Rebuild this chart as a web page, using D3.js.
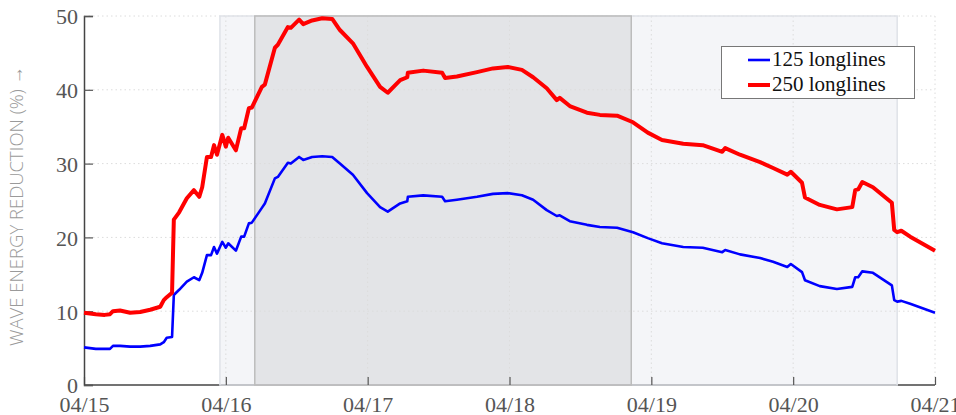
<!DOCTYPE html>
<html>
<head>
<meta charset="utf-8">
<script src="https://cdn.jsdelivr.net/npm/d3@7"></script>
<style>
  body { margin: 0; background: #fff; }
  svg { display: block; }
  .serif { font-family: "Liberation Serif", "Times New Roman", Times, serif; }
</style>
</head>
<body>
<script>
// hours since 04/15 00:00
const hours = [0, 2, 3.5, 4.4, 4.9, 6.1, 7.8, 9.5, 11.2, 12.9, 13.5, 14.0, 14.9, 15.2, 16.1, 17.4, 18.6, 19.5, 20.0, 20.8,
  21.5, 22.0, 22.5, 23.4, 24.0, 24.4, 25.7, 26.6, 27.1, 27.9, 28.4, 30.1, 30.6, 32.3, 32.8, 34.5, 35.0, 36.4, 37.1, 38.6,
  40.3, 42.0, 43.3, 45.5, 47.9, 50.1, 51.4, 53.5, 54.7, 54.8, 57.4, 60.6, 61.1, 63.1, 66.5, 69.2, 71.7, 74.1, 76.0, 78.3,
  80.0, 80.5, 82.2, 85.1, 87.3, 90.2, 92.9, 95.4, 97.8, 101.4, 104.7, 108.0, 108.5, 111.0, 114.4, 116.6, 119.0, 119.6, 121.5, 122.0,
  124.5, 127.4, 130.0, 130.5, 131.0, 131.7, 133.5, 136.7, 137.1, 137.6, 138.3, 139.8, 144.0];

const lines250 = [9.8, 9.6, 9.5, 9.6, 10.0, 10.1, 9.8, 9.9, 10.2, 10.6, 11.5, 11.9, 12.5, 22.4, 23.4, 25.3, 26.4, 25.5, 26.8, 30.9,
  30.9, 32.5, 31.2, 33.9, 32.3, 33.5, 31.8, 34.8, 34.8, 37.5, 37.6, 40.4, 40.7, 45.7, 46.1, 48.5, 48.4, 49.5, 48.9, 49.4,
  49.7, 49.6, 48.1, 46.3, 43.1, 40.4, 39.6, 41.3, 41.7, 42.3, 42.6, 42.3, 41.6, 41.8, 42.4, 42.9, 43.1, 42.7, 41.7, 40.2,
  38.6, 38.9, 37.8, 36.9, 36.6, 36.5, 35.6, 34.2, 33.2, 32.7, 32.5, 31.6, 32.1, 31.2, 30.2, 29.4, 28.5, 28.9, 27.4, 25.4,
  24.4, 23.8, 24.1, 26.4, 26.5, 27.5, 26.8, 24.7, 21.0, 20.7, 20.9, 20.1, 18.2];

const lines125 = [5.1, 4.9, 4.9, 4.9, 5.3, 5.3, 5.2, 5.2, 5.3, 5.5, 5.8, 6.4, 6.5, 12.2, 12.9, 14.0, 14.6, 14.2, 15.2, 17.6,
  17.6, 18.7, 17.8, 19.4, 18.6, 19.2, 18.2, 20.1, 20.1, 21.9, 22.0, 24.0, 24.6, 28.0, 28.2, 30.1, 30.0, 30.9, 30.5, 30.9,
  31.0, 30.9, 30.0, 28.5, 26.0, 24.1, 23.5, 24.6, 24.9, 25.5, 25.7, 25.5, 24.9, 25.1, 25.5, 25.9, 26.0, 25.7, 25.1, 23.7,
  22.9, 23.0, 22.2, 21.7, 21.4, 21.3, 20.7, 19.9, 19.2, 18.7, 18.6, 18.0, 18.3, 17.7, 17.2, 16.7, 16.0, 16.4, 15.3, 14.2,
  13.4, 13.0, 13.3, 14.6, 14.6, 15.4, 15.2, 13.5, 11.5, 11.3, 11.4, 11.0, 9.8];

// shaded periods, hours since 04/15 00:00
const lightBand = [23.0, 137.6];
const darkBand = [28.9, 92.6];

const yTicks = [0, 10, 20, 30, 40, 50];
const seriesNames = ['125 longlines', '250 longlines'];
const seriesColors = ['#0000ff', '#ff0000'];

const width = 956;
const height = 415;
const plotLeft = 84, plotRight = 935, plotTop = 16, plotBottom = 385;

const t0 = new Date(Date.UTC(2021, 3, 15));
const toDate = (h) => new Date(t0.getTime() + h * 3600 * 1000);

const x = d3.scaleUtc()
  .domain([t0, toDate(144)])
  .range([plotLeft, plotRight]);

const y = d3.scaleLinear()
  .domain([0, 50])
  .range([plotBottom, plotTop]);

const svg = d3.select('body')
  .append('svg')
  .attr('width', width)
  .attr('height', height);

// shading
svg.append('rect')
  .attr('x', x(toDate(lightBand[0])))
  .attr('y', plotTop)
  .attr('width', x(toDate(lightBand[1])) - x(toDate(lightBand[0])))
  .attr('height', plotBottom - plotTop)
  .attr('fill', '#f4f5f8');

svg.append('rect')
  .attr('x', x(toDate(darkBand[0])))
  .attr('y', plotTop)
  .attr('width', x(toDate(darkBand[1])) - x(toDate(darkBand[0])))
  .attr('height', plotBottom - plotTop)
  .attr('fill', '#e3e4e7');

const dayTicks = d3.utcDay.range(t0, toDate(145));

// grid
svg.append('g')
  .selectAll('line')
  .data(yTicks.slice(1))
  .enter()
  .append('line')
  .attr('x1', plotLeft)
  .attr('x2', plotRight)
  .attr('y1', (d) => y(d))
  .attr('y2', (d) => y(d))
  .attr('stroke', '#dcdcdc')
  .attr('stroke-dasharray', '1.5,3');

svg.append('g')
  .selectAll('line')
  .data(dayTicks.slice(1))
  .enter()
  .append('line')
  .attr('x1', (d) => x(d))
  .attr('x2', (d) => x(d))
  .attr('y1', plotTop)
  .attr('y2', plotBottom)
  .attr('stroke', '#dcdcdc')
  .attr('stroke-dasharray', '1.5,3');

// x axis baseline, then band outlines over it
svg.append('line')
  .attr('x1', plotLeft).attr('x2', plotRight)
  .attr('y1', plotBottom).attr('y2', plotBottom)
  .attr('stroke', '#444')
  .attr('stroke-width', 1.5);

svg.append('rect')
  .attr('x', x(toDate(lightBand[0])))
  .attr('y', plotTop)
  .attr('width', x(toDate(lightBand[1])) - x(toDate(lightBand[0])))
  .attr('height', plotBottom - plotTop)
  .attr('fill', 'none')
  .attr('stroke', '#dfe2e8')
  .attr('stroke-width', 1.5);

svg.append('rect')
  .attr('x', x(toDate(darkBand[0])))
  .attr('y', plotTop)
  .attr('width', x(toDate(darkBand[1])) - x(toDate(darkBand[0])))
  .attr('height', plotBottom - plotTop)
  .attr('fill', 'none')
  .attr('stroke', '#bcbcbc')
  .attr('stroke-width', 1.5);

// axes
const xAxis = svg.append('g')
  .attr('transform', `translate(0,${plotBottom})`)
  .attr('font-family', null)
  .call(d3.axisBottom(x).tickValues(dayTicks).tickFormat(d3.utcFormat('%m/%d')).tickSize(-8).tickPadding(15));

const yAxis = svg.append('g')
  .attr('transform', `translate(${plotLeft},0)`)
  .call(d3.axisLeft(y).tickValues(yTicks).tickSize(-9).tickPadding(6));

xAxis.select('.domain').remove();
yAxis.select('.domain').attr('stroke', '#444').attr('stroke-width', 1.5);

[xAxis, yAxis].forEach((g) => {
  g.attr('font-family', null).attr('font-size', null);
  g.selectAll('.tick line').attr('stroke', '#555').attr('stroke-width', 1.2);
  g.selectAll('.tick text')
    .attr('class', 'serif')
    .attr('fill', '#555')
    .style('font-size', '22px');
});
yAxis.selectAll('.tick text').attr('dy', '0.36em');
xAxis.selectAll('.tick text').attr('dy', '0.55em');

// y label
svg.append('text')
  .attr('transform', 'translate(23,206) rotate(-90)')
  .attr('text-anchor', 'middle')
  .attr('fill', '#9a9a9a')
  .style('font-family', '"Open Sans", sans-serif')
  .style('font-weight', 300)
  .style('font-size', '18.5px')
  .text('WAVE ENERGY REDUCTION (%) →');

// series
const line = d3.line()
  .x((d) => x(toDate(d[0])))
  .y((d) => y(d[1]));

svg.append('path')
  .datum(d3.zip(hours, lines125))
  .attr('d', line)
  .attr('fill', 'none')
  .attr('stroke', seriesColors[0])
  .attr('stroke-width', 2.6)
  .attr('stroke-linejoin', 'round');

svg.append('path')
  .datum(d3.zip(hours, lines250))
  .attr('d', line)
  .attr('fill', 'none')
  .attr('stroke', seriesColors[1])
  .attr('stroke-width', 4)
  .attr('stroke-linejoin', 'round');

// legend
const legend = svg.append('g');

legend.append('rect')
  .attr('x', 721.5)
  .attr('y', 46.5)
  .attr('width', 193)
  .attr('height', 52)
  .attr('fill', '#fff')
  .attr('stroke', '#777');

const items = legend.selectAll('g.item')
  .data(seriesNames)
  .enter()
  .append('g')
  .attr('class', 'item')
  .attr('transform', (d, i) => `translate(0,${60 + i * 25})`);

items.append('line')
  .attr('x1', 748)
  .attr('x2', 770)
  .attr('stroke', (d, i) => seriesColors[i])
  .attr('stroke-width', (d, i) => i === 0 ? 2.6 : 4);

items.append('text')
  .attr('class', 'serif')
  .attr('x', 772)
  .attr('y', 6)
  .attr('fill', '#111')
  .style('font-size', '21px')
  .text((d) => d);
</script>
</body>
</html>
